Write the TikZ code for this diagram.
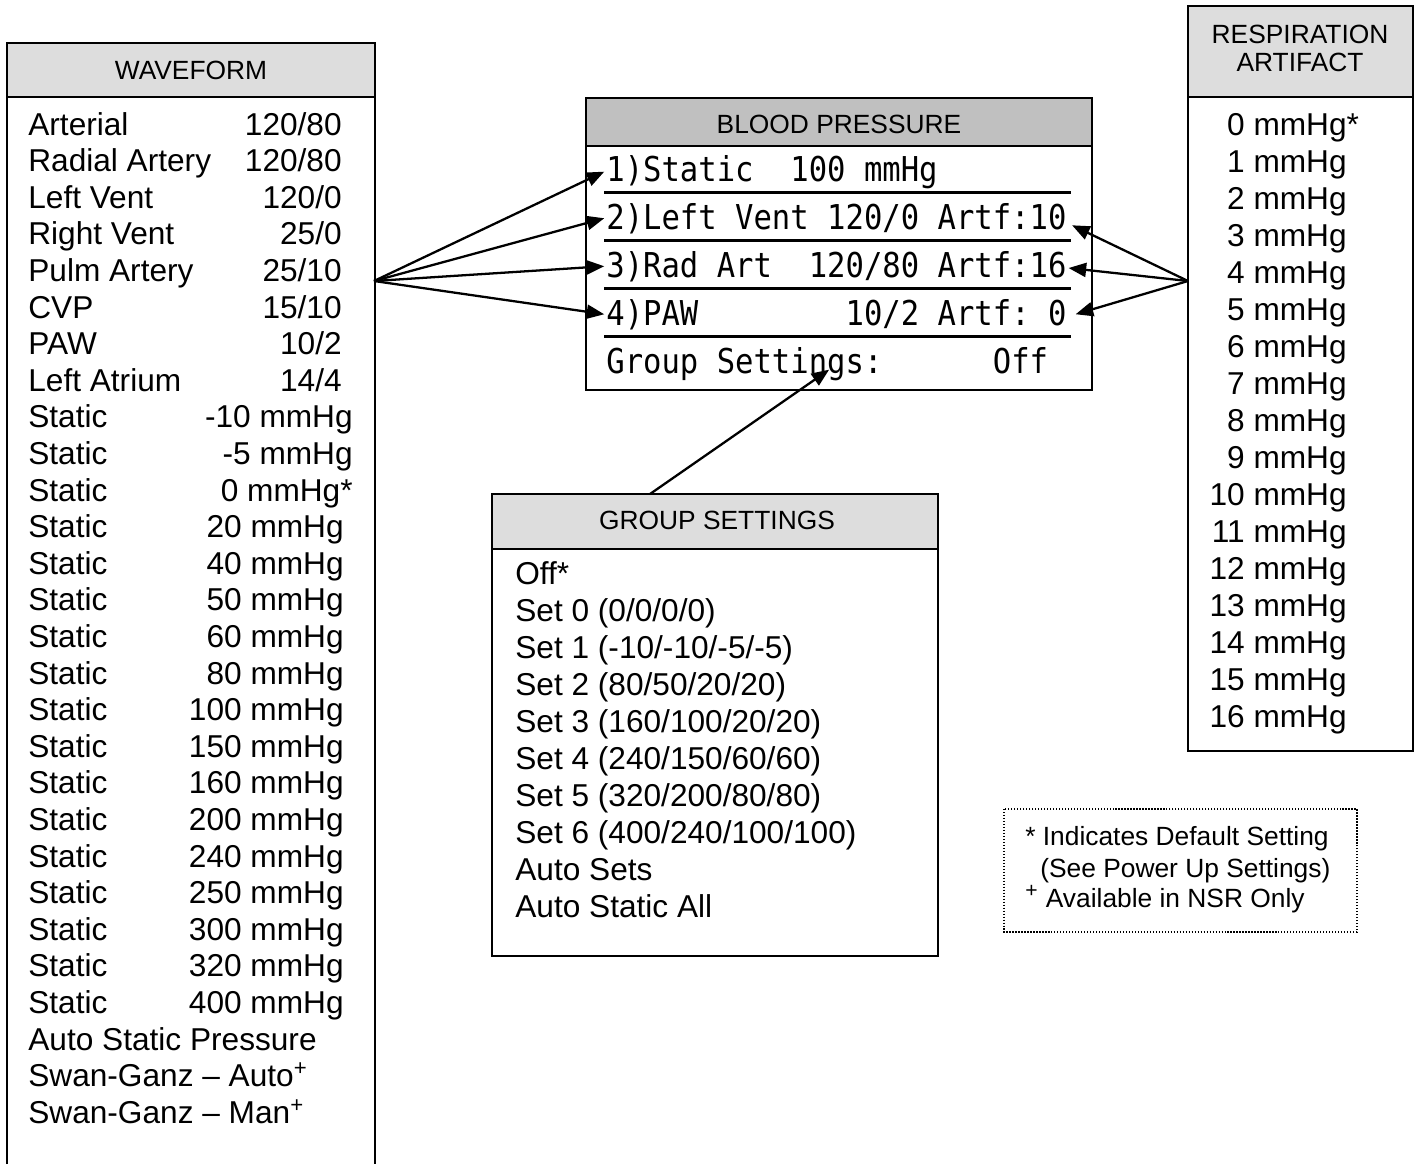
\documentclass[tikz,border=0pt]{standalone}
\usepackage{tikz}
\usepackage{fontspec}
\setmainfont{Liberation Sans}
\newfontfamily\lcdfont{DejaVu Sans Mono}
\definecolor{PanelGray}{RGB}{221,221,221}
\definecolor{LcdGray}{RGB}{192,192,192}
\usetikzlibrary{
    arrows.meta,
    calc,
}
\tikzset{
    item/.style={anchor=base west, inner sep=0pt, font=\fontsize{18}{22}\selectfont},
    itemval/.style={item, anchor=base east},
    headtxt/.style={inner sep=0pt, font=\fontsize{15}{16}\selectfont},
    lcdrow/.style={anchor=base west, inner sep=0pt, font=\lcdfont\fontsize{17.4}{20}\selectfont},
    boxline/.style={line width=1.1pt},
    pointer/.style={-{Triangle[length=10pt,width=8pt]}, line width=1.3pt},
}

\begin{document}
\begin{tikzpicture}[x=0.02cm, y=-0.02cm]
        \useasboundingbox (0,0) rectangle (1419,1164);
        % waveform list
        \fill[PanelGray] (7,43) rectangle (375,97);
        \draw[boxline] (7,1164) -- (7,43) -- (375,43) -- (375,1164);
        \draw[boxline] (7,97) -- (375,97);
        \node[headtxt] (wfhead) at (191,70) {WAVEFORM};
        \foreach \lab [count=\i from 0] in {Arterial, Radial Artery, Left Vent, Right Vent, Pulm Artery, CVP, PAW, Left Atrium}
            \node[item] (wf\i) at (28,135+36.6*\i) {\lab};
        \foreach \val [count=\i from 0] in {120/80, 120/80, 120/0, 25/0, 25/10, 15/10, 10/2, 14/4}
            \node[itemval] (wfv\i) at (342,135+36.6*\i) {\val};
        \foreach \i in {8,...,24}
            \node[item] (wf\i) at (28,135+36.6*\i) {Static};
        \foreach \val [count=\i from 8] in {-10 mmHg, -5 mmHg, 0 mmHg*}
            \node[itemval] (wfv\i) at (353,135+36.6*\i) {\val};
        \foreach \val [count=\i from 11] in {20,40,50,60,80,100,150,160,200,240,250,300,320,400}
            \node[itemval] (wfv\i) at (344,135+36.6*\i) {\val{} mmHg};
        \node[item] (wf25) at (28,135+36.6*25) {Auto Static Pressure};
        \node[item] (wf26) at (28,135+36.6*26) {Swan-Ganz – Auto\textsuperscript{+}};
        \node[item] (wf27) at (28,135+36.6*27) {Swan-Ganz – Man\textsuperscript{+}};
        % respiration artifact
        \fill[PanelGray] (1188,6) rectangle (1413,97);
        \draw[boxline] (1188,6) rectangle (1413,751);
        \draw[boxline] (1188,97) -- (1413,97);
        \node[headtxt, align=center] (rahead) at (1300,48) {RESPIRATION\\ARTIFACT};
        \node[itemval] (ra0) at (1347,135) {0 mmHg\rlap{*}};
        \foreach \v in {1,...,16}
            \node[itemval] (ra\v) at (1347,135+37*\v) {\v{} mmHg};
        % blood pressure display
        \fill[LcdGray] (586,98) rectangle (1092,146);
        \draw[boxline] (586,98) rectangle (1092,390);
        \draw[boxline] (586,146) -- (1092,146);
        \node[headtxt] (bphead) at (839,124) {BLOOD PRESSURE};
        \foreach \row [count=\i] in {1)Static~~100~mmHg, 2)Left~Vent~120/0~Artf:10, 3)Rad~Art~~120/80~Artf:16, 4)PAW~~~~~~~~10/2~Artf:~0, Group~Settings:~~~~~~Off}
            \node[lcdrow] (bp\i) at (606,133+48*\i) {\scalebox{1}[1.12]{\row}};
        \foreach \y in {192,240,288,336}
            \draw[line width=1.7pt] (604,\y) -- (1071,\y);
        % group settings
        \fill[PanelGray] (492,494) rectangle (938,549);
        \draw[boxline] (492,494) rectangle (938,956);
        \draw[boxline] (492,549) -- (938,549);
        \node[headtxt] (gshead) at (717,520) {GROUP SETTINGS};
        \foreach \opt [count=\i from 0] in {Off*, Set 0 (0/0/0/0), Set 1 (-10/-10/-5/-5), Set 2 (80/50/20/20), Set 3 (160/100/20/20), Set 4 (240/150/60/60), Set 5 (320/200/80/80), Set 6 (400/240/100/100), Auto Sets, Auto Static All}
            \node[item] (gs\i) at (515,584+37*\i) {\opt};
        % legend
        \draw[densely dotted, line width=0.7pt] (1004,809) rectangle (1357,932);
        \node[headtxt, anchor=base west] (key1) at (1025,845) {* Indicates Default Setting};
        \node[headtxt, anchor=base west] (key2) at (1040,877) {(See Power Up Settings)};
        \node[headtxt, anchor=base west] (key3) at (1025,907) {\textsuperscript{\large +} Available in NSR Only};
        % connectors
        \coordinate (wfout) at (374,281);
        \coordinate (raout) at (1188,281);
        \coordinate (gsout) at (650,494);
        \foreach \i in {1,...,4}
            \draw[pointer] (wfout) -- ([xshift=-1pt]bp\i.west);
        \foreach \i/\dx/\dy in {2/3pt/-4pt, 3/1pt/-1pt, 4/5pt/0pt}
            \draw[pointer] (raout) -- ([xshift=\dx,yshift=\dy]bp\i.east);
        \draw[pointer] (gsout) -- ([xshift=127pt,yshift=-3.4pt]bp5.west);
    \end{tikzpicture}
\end{document}
